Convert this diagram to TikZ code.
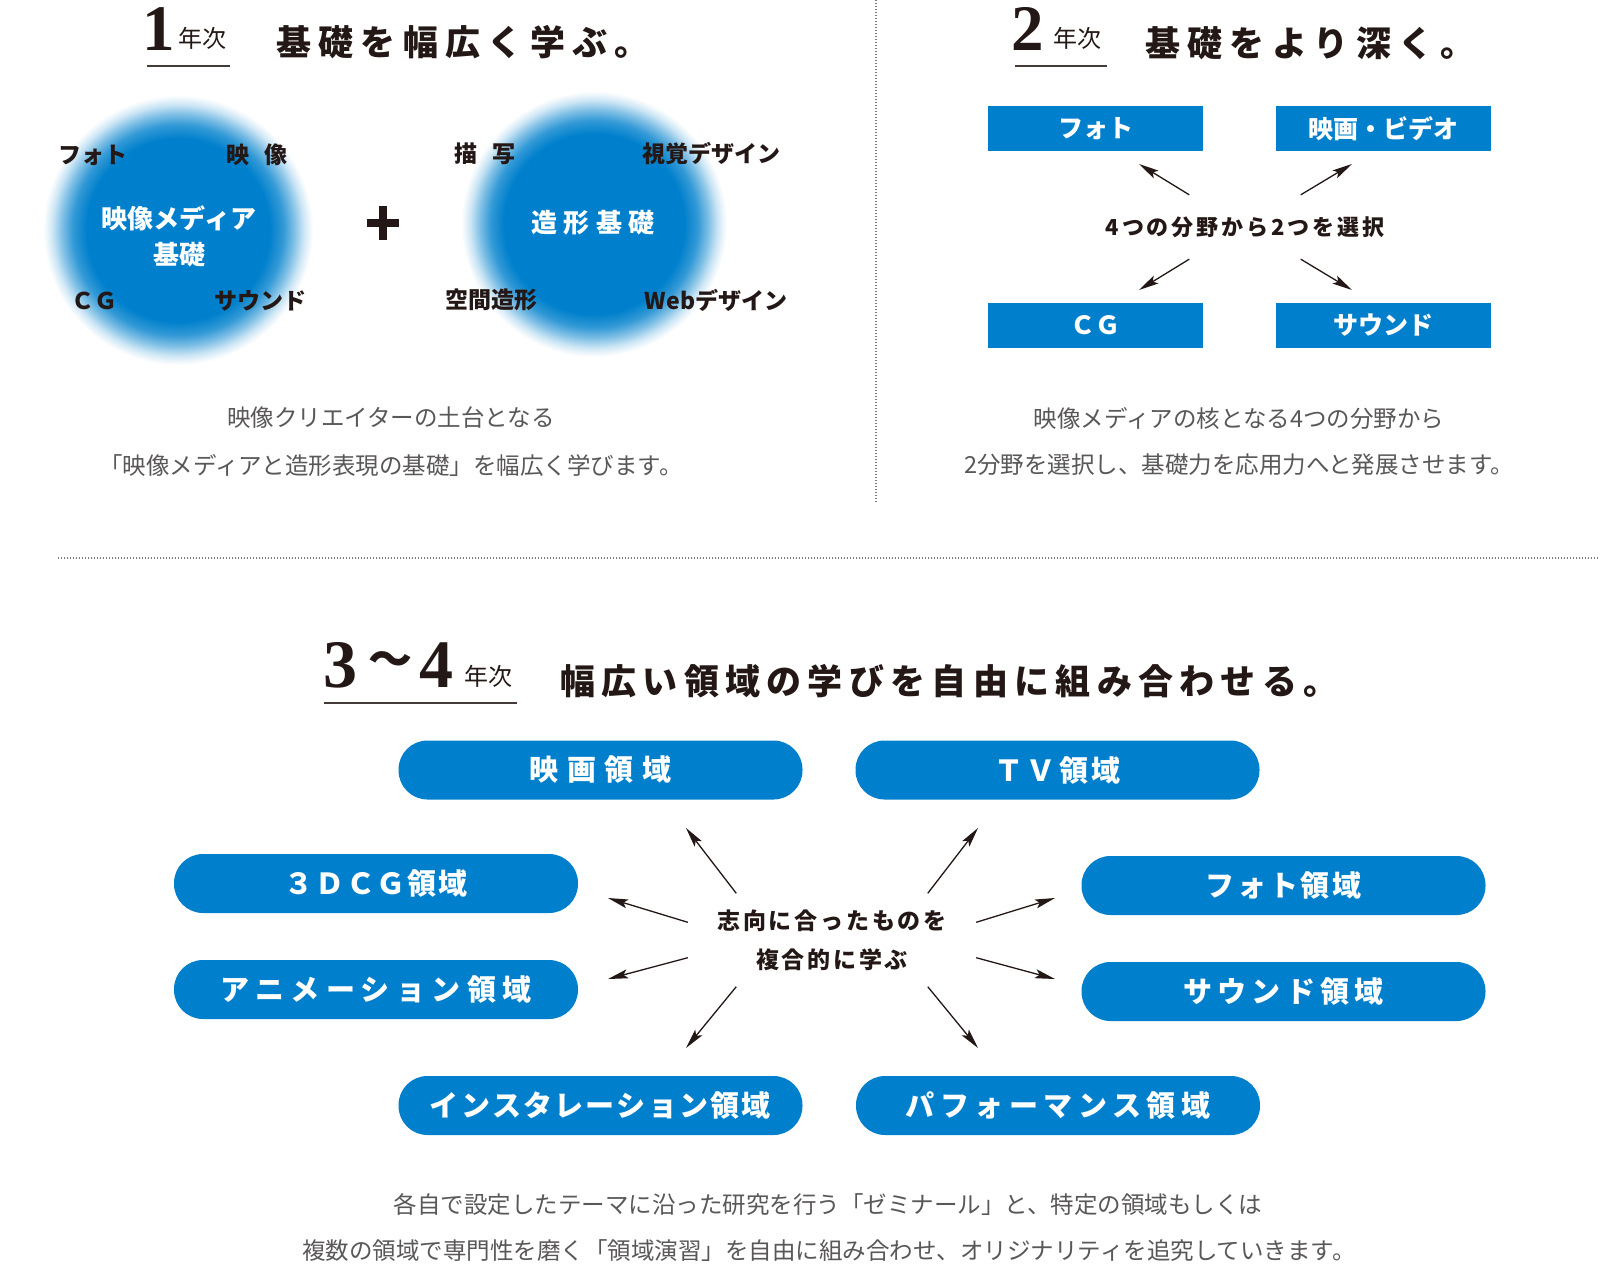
\documentclass[tikz,border=0pt]{standalone}
\usepackage{fontspec}
\setmainfont{Noto Sans CJK JP}
\newfontfamily\numfont{Liberation Serif}
\usetikzlibrary{arrows.meta}

\definecolor{inkdark}{RGB}{35,24,21}
\definecolor{mediablue}{RGB}{0,128,204}
\definecolor{textgray}{RGB}{89,87,87}
\definecolor{rulegray}{RGB}{120,120,120}

% soft blue disc behind the first-year fields (path fills the middle 25bp)
\pgfdeclareradialshading{glowdisk}{\pgfpoint{0bp}{0bp}}{color(0bp)=(mediablue); color(17bp)=(mediablue); color(19.5bp)=(mediablue!80); color(21.5bp)=(mediablue!50); color(23.25bp)=(mediablue!20); color(24.5bp)=(mediablue!5); color(25bp)=(white); color(50bp)=(white)}

\newcommand\trk[1]{\addfontfeature{LetterSpace=#1}}

\tikzset{
  ink/.style={text=inkdark, inner sep=0pt},
  yearnum/.style={ink, anchor=base, font=\numfont\fontsize{65}{65}\selectfont\bfseries},
  yearlbl/.style={ink, anchor=base west, font=\fontsize{24}{24}\selectfont},
  headline/.style={ink, anchor=west, font=\fontsize{35}{35}\selectfont\bfseries\trk{21}},
  underline/.style={draw=inkdark!85, line width=2pt},
  fieldlbl/.style={ink, font=\fontsize{23}{23}\selectfont\bfseries},
  corelbl/.style={text=white, inner sep=0pt, align=center, font=\fontsize{26}{36}\selectfont\bfseries},
  body/.style={text=textgray, inner sep=0pt, font=\fontsize{23.5}{23.5}\selectfont},
  fieldbox/.style={fill=mediablue, text=white, minimum width=215pt, minimum height=45pt, inner sep=0pt, font=\fontsize{25}{25}\selectfont\bfseries},
  pill/.style={fill=mediablue, text=white, rounded corners=29pt, minimum width=404pt, minimum height=59pt, inner sep=0pt, font=\fontsize{29}{29}\selectfont\bfseries},
  hub/.style={ink, align=center, inner sep=0pt},
  pick/.style={draw=inkdark, line width=1.3pt, -{Stealth[length=20pt,width=9pt,inset=4pt]}},
  sep/.style={draw=rulegray, line width=1.2pt, dash pattern=on 1.2pt off 1.8pt},
}

\begin{document}
\begin{tikzpicture}[x=1pt,y=1pt,yscale=-1]
\fill[white] (0,0) rectangle (1600,1264);
\useasboundingbox (0,0) rectangle (1600,1264);

%% year 1
\node[yearnum] (n1) at (159,50) {1};
\node[yearlbl] (y1) at (178,47) {年次};
\draw[underline] (147,66) -- (230,66);
\node[headline] (h1) at (276,42) {基礎を幅広く学ぶ。};

\shade[shading=glowdisk] (178,230) circle[radius=135];
\shade[shading=glowdisk] (594,224) circle[radius=133];

\node[fieldlbl] (lphoto) at (93,155) {フォト};
\node[fieldlbl] (lvideo) at (257,155) {映\hspace{16pt}像};
\node[fieldlbl] (lcg) at (94,301) {ＣＧ};
\node[fieldlbl] (lsound) at (260,301) {サウンド};
\node[corelbl] (core1) at (179,236) {映像メディア\\基礎};

\coordinate (plus) at (383,223);
\draw[inkdark, line width=8pt] ([xshift=-16pt]plus) -- ([xshift=16pt]plus);
\draw[inkdark, line width=8pt] ([yshift=-17pt]plus) -- ([yshift=17pt]plus);

\node[fieldlbl] (ldraw) at (485,154) {描\hspace{16pt}写};
\node[fieldlbl] (lvisual) at (711,154) {視覚デザイン};
\node[corelbl] (core2) at (593,223) {\trk{25}造形基礎};
\node[fieldlbl] (lspace) at (491,300) {空間造形};
\node[fieldlbl] (lweb) at (716,300) {Webデザイン};

\node[body] (d1a) at (391,418) {映像クリエイターの土台となる};
\node[body] (d1b) at (391,465) {「映像メディアと造形表現の基礎」を幅広く学びます。};

%% separators
\draw[sep] (876,0) -- (876,502);
\draw[sep] (58,558) -- (1600,558);

%% year 2
\node[yearnum] (n2) at (1028,50) {2};
\node[yearlbl] (y2) at (1053,47) {年次};
\draw[underline] (1015,66) -- (1107,66);
\node[headline] (h2) at (1145,43) {基礎をより深く。};

\node[fieldbox] (bphoto) at (1095.5,128.5) {フォト};
\node[fieldbox] (bmovie) at (1383.5,128.5) {映画・ビデオ};
\node[fieldbox] (bcg) at (1095.5,325) {ＣＧ};
\node[fieldbox] (bsound) at (1383.5,325) {サウンド};
\node[hub, font=\fontsize{22}{22}\selectfont\bfseries\trk{13}, minimum height=64pt] (pick2) at (1245,227) {4つの分野から2つを選択};

\coordinate (tphoto) at (1139,164);
\coordinate (tmovie) at (1352,164);
\coordinate (tcg) at (1139,290);
\coordinate (tsound) at (1352,290);
\draw[pick] (pick2.150) -- (tphoto);
\draw[pick] (pick2.30) -- (tmovie);
\draw[pick] (pick2.-150) -- (tcg);
\draw[pick] (pick2.-30) -- (tsound);

\node[body] (d2a) at (1239,418) {映像メディアの核となる4つの分野から};
\node[body] (d2b) at (1239,465) {2分野を選択し、基礎力を応用力へと発展させます。};

%% years 3-4
\node[yearnum, font=\numfont\fontsize{68}{68}\selectfont\bfseries] (n3) at (340.5,687) {3};
\node[ink, font=\fontsize{44}{44}\selectfont\bfseries] (wave) at (390,664) {〜};
\node[yearnum, font=\numfont\fontsize{68}{68}\selectfont\bfseries] (n4) at (436,687) {4};
\node[yearlbl] (y3) at (464,685) {年次};
\draw[underline] (324,703) -- (517,703);
\node[headline, font=\fontsize{35}{35}\selectfont\bfseries\trk{18}] (h3) at (560,681) {幅広い領域の学びを自由に組み合わせる。};

\node[pill] (pfilm) at (600.5,770) {\trk{29}映画領域};
\node[pill] (ptv) at (1057.5,770) {\trk{12}ＴＶ領域};
\node[pill] (p3dcg) at (376,883.5) {\trk{6}３ＤＣＧ領域};
\node[pill] (pphoto) at (1283.5,885.5) {\trk{10}フォト領域};
\node[pill] (panime) at (376,989.5) {\trk{22}アニメーション領域};
\node[pill] (psound) at (1283.5,991.5) {\trk{18}サウンド領域};
\node[pill] (pinst) at (600.5,1105.5) {\trk{8}インスタレーション領域};
\node[pill] (pperf) at (1058,1105.5) {\trk{19}パフォーマンス領域};

\node[hub, font=\fontsize{23}{39}\selectfont\bfseries\trk{12}, minimum width=288pt, minimum height=93pt] (mix) at (832,940) {志向に合ったものを\\複合的に学ぶ};

\coordinate (tfilm) at (686,828);
\coordinate (ttv) at (978,828);
\coordinate (t3dcg) at (608,898);
\coordinate (tphoto3) at (1055,898);
\coordinate (tanime) at (608,979);
\coordinate (tsound3) at (1055,979);
\coordinate (tinst) at (686,1048);
\coordinate (tperf) at (978,1048);
\draw[pick] (mix.154) -- (tfilm);
\draw[pick] (mix.26) -- (ttv);
\draw[pick] (mix.173) -- (t3dcg);
\draw[pick] (mix.7) -- (tphoto3);
\draw[pick] (mix.-173) -- (tanime);
\draw[pick] (mix.-7) -- (tsound3);
\draw[pick] (mix.-154) -- (tinst);
\draw[pick] (mix.-26) -- (tperf);

\node[body] (d3a) at (828,1205) {各自で設定したテーマに沿った研究を行う「ゼミナール」と、特定の領域もしくは};
\node[body] (d3b) at (829,1251) {複数の領域で専門性を磨く「領域演習」を自由に組み合わせ、オリジナリティを追究していきます。};
\end{tikzpicture}
\end{document}
